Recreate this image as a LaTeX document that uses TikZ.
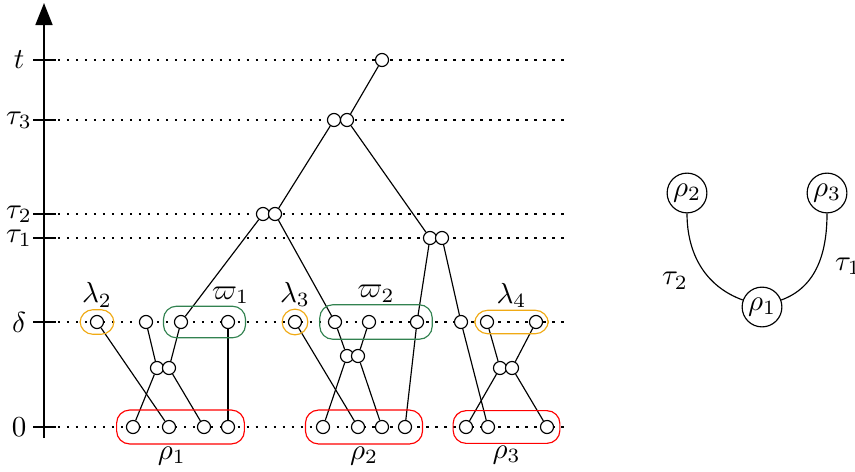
\documentclass[tikz,border=0pt]{standalone}
\usepackage{amsmath}
\usepackage{amssymb}
\usetikzlibrary{arrows.meta,positioning,fit}

\definecolor{lamcol}{RGB}{240,170,20}
\definecolor{wcol}{RGB}{50,130,80}

\begin{document}
\begin{tikzpicture}[x=0.345pt,y=0.345pt,
    pt/.style={circle,draw,fill=white,inner sep=0pt,minimum size=4.5pt},
    level/.style={dash pattern=on 0.8pt off 2.3pt},
    grp/.style={draw,rounded corners=4.5pt},
    every label/.style={inner sep=0.5pt},
    big/.style={circle,draw,inner sep=0.8pt}]
  \useasboundingbox (0,0) rectangle (855,471);

  % time axis
  \draw[line width=0.8pt,-{Triangle[length=7.6pt,width=5.8pt]}] (44,33) -- (44,468);
  \foreach \y/\l in {411/t,351/\tau_3,257/\tau_2,233/\tau_1,149/\delta,44/0}{
    \draw (33,\y) -- (56,\y);
    \draw[level] (58,\y) -- (570,\y);
    \node (lab\y) at (19,\y) {$\l$};
  }

  % tree
  \node[pt] (t0) at (382,411) {};
  \node[pt] (a3l) at (334,351) {};
  \node[pt] (a3r) at (347,351) {};
  \node[pt] (a2l) at (263,257) {};
  \node[pt] (a2r) at (275,257) {};
  \node[pt] (a1l) at (430,233) {};
  \node[pt] (a1r) at (442,233) {};

  \node[pt] (d1) at (97,149) {};
  \node[pt] (d2) at (146,149) {};
  \node[pt] (d3) at (181,149) {};
  \node[pt] (d4) at (228,149) {};
  \node[pt] (d5) at (295,149) {};
  \node[pt] (d6) at (335,149) {};
  \node[pt] (d7) at (369,149) {};
  \node[pt] (d8) at (417,149) {};
  \node[pt] (d9) at (461,149) {};
  \node[pt] (d10) at (487,149) {};
  \node[pt] (d11) at (536,149) {};

  \node[pt] (m1l) at (157,103) {};
  \node[pt] (m1r) at (169,103) {};
  \node[pt] (m2l) at (347,115) {};
  \node[pt] (m2r) at (358,115) {};
  \node[pt] (m3l) at (500,103) {};
  \node[pt] (m3r) at (512,103) {};

  \node[pt] (b1) at (133,44) {};
  \node[pt] (b2) at (169,44) {};
  \node[pt] (b3) at (204,44) {};
  \node[pt] (b4) at (228,44) {};
  \node[pt] (b5) at (323,44) {};
  \node[pt] (b6) at (358,44) {};
  \node[pt] (b7) at (382,44) {};
  \node[pt] (b8) at (405,44) {};
  \node[pt] (b9) at (466,44) {};
  \node[pt] (b10) at (488,44) {};
  \node[pt] (b11) at (547,44) {};

  \path
    (t0) edge (a3r)
    (a3l) edge (a2r)
    (a3r) edge (a1l)
    (a2l) edge (d3)
    (a2r) edge (d6)
    (a1l) edge (d8)
    (a1r) edge (d9)
    (d1) edge (b2)
    (d2) edge (m1l)
    (d3) edge (m1r)
    (m1l) edge (b1)
    (m1r) edge (b3)
    (d4) edge (b4)
    (d5) edge (b6)
    (d6) edge (m2l)
    (d7) edge (m2r)
    (m2l) edge (b5)
    (m2r) edge (b7)
    (d8) edge (b8)
    (d9) edge (b10)
    (d10) edge (m3l)
    (d11) edge (m3r)
    (m3l) edge (b9)
    (m3r) edge (b11)
  ;

  % groups
  \node[grp,draw=lamcol,fit=(d1),inner xsep=3.4pt,inner ysep=1.8pt,
        label={above:$\lambda_2$}] (lam2) {};
  \node[grp,draw=wcol,fit=(d3)(d4),inner xsep=3.6pt,inner ysep=3pt,
        label={[xshift=9pt]above:$\varpi_1$}] (w1) {};
  \node[grp,draw=red,fit=(b1)(b4),inner xsep=3.2pt,inner ysep=3.4pt,
        label={[xshift=-3pt]below:$\rho_1$}] (r1g) {};
  \node[grp,draw=lamcol,fit=(d5),inner xsep=2pt,inner ysep=2pt,
        label={above:$\lambda_3$}] (lam3) {};
  \node[grp,draw=wcol,fit=(d6)(d8),inner xsep=2.8pt,inner ysep=3.5pt,
        label={above:$\varpi_2$}] (w2) {};
  \node[grp,draw=lamcol,fit=(d10)(d11),inner xsep=1.8pt,inner ysep=1.6pt,
        label={above:$\lambda_4$}] (lam4) {};
  \node[grp,draw=red,fit=(b5)(b8),inner xsep=3.6pt,inner ysep=3.4pt,
        label={below:$\rho_2$}] (r2g) {};
  \node[grp,draw=red,fit=(b9)(b11),inner xsep=2pt,inner ysep=3.2pt,
        label={below:$\rho_3$}] (r3g) {};

  % merge graph
  \node[big] (r2) at (687,278) {$\rho_2$};
  \node[big] (r3) at (827,278) {$\rho_3$};
  \node[big] (r1) at (762,164) {$\rho_1$};
  \draw (r2) to[out=-90,in=160] node[pos=0.45,below left] (lt2) {$\tau_2$} (r1);
  \draw (r3) to[out=-90,in=20] node[pos=0.5,right,xshift=2.5pt] (lt1) {$\tau_1$} (r1);
\end{tikzpicture}
\end{document}
